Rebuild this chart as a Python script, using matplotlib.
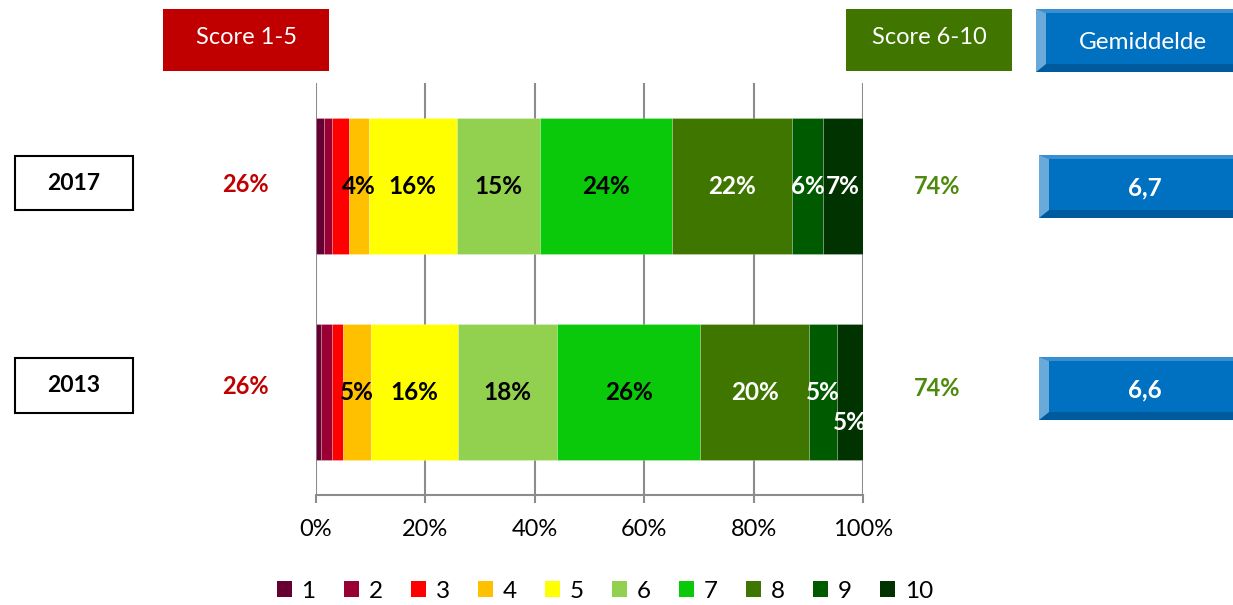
import matplotlib
matplotlib.use("Agg")
import matplotlib.pyplot as plt
from matplotlib.patches import Rectangle, Polygon, Patch

plt.rcParams['font.family'] = ['Lato', 'DejaVu Sans']

# ---- data ----
years = ['2017', '2013']
scores = ['1', '2', '3', '4', '5', '6', '7', '8', '9', '10']
vals_2017 = [1.4, 1.5, 3.1, 3.7, 16.0, 15.2, 24.1, 22.1, 5.6, 7.3]
vals_2013 = [1.0, 2.0, 2.0, 5.0, 16.0, 18.1, 26.1, 20.0, 5.1, 4.7]
averages = [6.7, 6.6]
xticks = [0, 20, 40, 60, 80, 100]
colors = ['#660033', '#990033', '#FF0000', '#FFC000', '#FFFF00',
          '#92D050', '#0AC80A', '#3F7600', '#005A00', '#003300']
label_colors = ['black'] * 7 + ['white'] * 3

series = [vals_2017, vals_2013]

W, H = 1233, 605
fig = plt.figure(figsize=(W / 100, H / 100), dpi=100)

# main axes (pixel layout)
ax = fig.add_axes([316 / W, 1 - 495 / H, (863 - 316) / W, (495 - 83) / H])
ypos = [1, 0]
ax.set_ylim(-0.5, 1.5)
ax.set_xlim(0, 100)
bar_h = 0.657
for yi, vals in zip(ypos, series):
    left = 0
    for i, v in enumerate(vals):
        ax.barh(yi, v, left=left, height=bar_h, color=colors[i],
                edgecolor=(1, 1, 1, 0.25), linewidth=0.6, zorder=3)
        if v >= 3.5:
            dy = 0
            if yi == 0 and i == 9:
                dy = -0.15
            ax.text(left + v / 2, yi + dy, f"{round(v)}%", ha='center', va='center',
                    fontsize=17.5, fontweight='bold', color=label_colors[i], zorder=4)
        left += v

ax.set_xticks(xticks)
ax.set_xticklabels([f"{t}%" for t in xticks], fontsize=17)
ax.set_yticks([])
ax.grid(axis='x', color='#8C8C8C', linewidth=1.5, zorder=0)
ax.set_axisbelow(True)
for s in ['top', 'right', 'left']:
    ax.spines[s].set_visible(False)
ax.spines['bottom'].set_color('#8C8C8C')
ax.spines['bottom'].set_linewidth(1.5)
ax.tick_params(axis='x', direction='out', length=6, width=1.5, color='#8C8C8C', pad=11)

# overlay axes in pixel coordinates
ov = fig.add_axes([0, 0, 1, 1])
ov.set_xlim(0, W)
ov.set_ylim(H, 0)
ov.axis('off')

def flat_box(x0, y0, x1, y1, color, text):
    ov.add_patch(Rectangle((x0, y0), x1 - x0, y1 - y0, facecolor=color, edgecolor='none'))
    ov.text((x0 + x1) / 2, (y0 + y1) / 2 - 3, text, ha='center', va='center',
            color='white', fontsize=17)

flat_box(163, 9, 329, 71, '#C00000', 'Score 1-5')
flat_box(846, 9, 1012, 71, '#407600', 'Score 6-10')

def bevel_box(x0, y0, x1, y1, text, bold, dy):
    b, t, bb = 10, 4, 8
    ov.add_patch(Rectangle((x0, y0), x1 - x0, y1 - y0, facecolor='#0070C0', edgecolor='none'))
    ov.add_patch(Polygon([(x0, y0), (x1, y0), (x1, y0 + t), (x0 + b, y0 + t)],
                         facecolor='#3A8FD0', edgecolor='none'))
    ov.add_patch(Polygon([(x0, y1), (x0 + b, y1 - bb), (x1, y1 - bb), (x1, y1)],
                         facecolor='#005A9E', edgecolor='none'))
    ov.add_patch(Polygon([(x0, y0), (x0 + b, y0 + t), (x0 + b, y1 - bb), (x0, y1)],
                         facecolor='#6AAADA', edgecolor='none'))
    ov.text((x0 + b + x1) / 2 + 2, (y0 + y1) / 2 + dy, text, ha='center', va='center',
            color='white', fontsize=17.5, fontweight='bold' if bold else 'normal')

bevel_box(1036, 9, 1236, 72, 'Gemiddelde', False, 2)

box_y = [(156, 210), (358, 413)]
avg_y = [(155, 218), (357, 420)]
val_y = [185, 386]
for k, yr in enumerate(years):
    y0, y1 = box_y[k]
    ov.add_patch(Rectangle((15, y0), 118, y1 - y0, facecolor='white',
                           edgecolor='black', linewidth=1.5))
    ov.text(74, (y0 + y1) / 2, yr, ha='center', va='center', fontsize=16.5,
            fontweight='bold', color='black')
    low = round(sum(series[k][:5]))
    high = round(sum(series[k][5:]))
    ov.text(245, val_y[k], f"{low}%", ha='center', va='center', fontsize=17,
            fontweight='bold', color='#C00000')
    ov.text(937, val_y[k] + 2, f"{high}%", ha='center', va='center', fontsize=17,
            fontweight='bold', color='#4E8A0E')
    a0, a1 = avg_y[k]
    bevel_box(1039, a0, 1236, a1, f"{averages[k]:.1f}".replace('.', ','), True, 1)

handles = [Patch(facecolor=c, edgecolor='none') for c in colors]
fig.legend(handles, scores, loc='center', bbox_to_anchor=(605 / W, 1 - 591 / H),
           ncol=10, frameon=False, fontsize=17.5, handlelength=0.62, handleheight=0.62,
           handletextpad=0.4, columnspacing=1.16)

fig.savefig('out.png', dpi=100)
